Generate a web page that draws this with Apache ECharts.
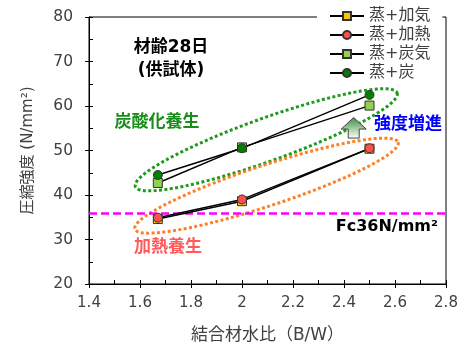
<!DOCTYPE html>
<html>
<head>
<meta charset="utf-8">
<script src="https://cdn.jsdelivr.net/npm/echarts@6/dist/echarts.min.js"></script>
<style>
  html, body { margin: 0; padding: 0; background: #fff; }
  #chart { width: 464px; height: 347px; }
</style>
</head>
<body>
<div id="chart"></div>
<script>
// Binder-water ratio (B/W) of the specimens
const bwRatio = [1.67, 2.0, 2.5];
// 28-day compressive strength (N/mm2) per curing method
const steamHeatAir = [34.6, 38.6, 50.4];   // 蒸+加気
const steamHeat = [34.9, 39.0, 50.5];      // 蒸+加熱
const steamCarbAir = [42.7, 50.7, 60.1];   // 蒸+炭気
const steamCarb = [44.5, 50.5, 62.5];      // 蒸+炭
// Design strength line
const fcValue = 36;
// Axis tick settings
const xTicks = { min: 1.4, max: 2.8, interval: 0.2 };
const yTicks = { min: 20, max: 80, interval: 10 };

const FONT = "'DejaVu Sans', 'Noto Sans CJK JP', sans-serif";
const TEXT_GRAY = '#404040';

const chart = echarts.init(document.getElementById('chart'), null, { renderer: 'canvas' });

function pairs(ys) { return bwRatio.map((x, i) => [x, ys[i]]); }

function makeSeries(name, ys, symbol, color) {
  return {
    name: name,
    type: 'line',
    data: pairs(ys),
    symbol: symbol,
    symbolSize: 9,
    showSymbol: true,
    lineStyle: { color: '#000', width: 1.4 },
    itemStyle: { color: color, borderColor: '#333', borderWidth: 1 },
    emphasis: { disabled: true },
    z: 3
  };
}

const series = [
  makeSeries('蒸+加気', steamHeatAir, 'rect', '#FFC000'),
  makeSeries('蒸+加熱', steamHeat, 'circle', '#FF5050'),
  makeSeries('蒸+炭気', steamCarbAir, 'rect', '#92D050'),
  makeSeries('蒸+炭', steamCarb, 'circle', '#008000')
];
series[0].markLine = {
  silent: true,
  symbol: 'none',
  label: { show: false },
  lineStyle: { color: '#FF00FF', type: [8, 4], width: 2.5 },
  data: [{ yAxis: fcValue }],
  z: 2
};

const axisCommon = {
  axisLine: { show: true, onZero: false, lineStyle: { color: '#000', width: 1 } },
  splitLine: { show: false }
};

chart.setOption({
  animation: false,
  backgroundColor: '#fff',
  grid: {
    left: 89, right: 18, top: 17, bottom: 63,
    outerBoundsMode: 'none',
    containLabel: false,
    show: true, borderColor: '#000', borderWidth: 1, backgroundColor: 'transparent'
  },
  legend: {
    orient: 'vertical',
    left: 317, top: 4,
    padding: [4, 12, 4, 12],
    backgroundColor: '#fff',
    itemWidth: 34, itemHeight: 10, itemGap: 3,
    textStyle: { fontFamily: FONT, fontSize: 16, color: TEXT_GRAY, lineHeight: 16 },
    data: series.map(s => s.name)
  },
  xAxis: [
    Object.assign({}, axisCommon, {
      type: 'value', min: xTicks.min, max: xTicks.max, interval: xTicks.interval,
      position: 'bottom',
      axisTick: { show: true, inside: false, length: 4, lineStyle: { color: '#000' } },
      axisLabel: {
        margin: 12, fontFamily: FONT, fontSize: 15, color: TEXT_GRAY,
        formatter: v => (Math.round(v * 10) / 10).toString()
      },
      name: '結合材水比（B/W）', nameLocation: 'middle', nameGap: 43,
      nameTextStyle: { fontFamily: FONT, fontSize: 17, color: TEXT_GRAY }
    }),
    Object.assign({}, axisCommon, {
      type: 'value', min: xTicks.min, max: xTicks.max, interval: xTicks.interval,
      position: 'bottom',
      axisTick: { show: true, inside: true, length: 4, lineStyle: { color: '#000' } },
      minorTick: { show: true, splitNumber: 2, length: 4, lineStyle: { color: '#000' } },
      axisLabel: { show: false }
    })
  ],
  yAxis: [
    Object.assign({}, axisCommon, {
      type: 'value', min: yTicks.min, max: yTicks.max, interval: yTicks.interval,
      position: 'left',
      axisTick: { show: true, inside: false, length: 4, lineStyle: { color: '#000' } },
      axisLabel: { margin: 16, fontFamily: FONT, fontSize: 15.5, color: TEXT_GRAY },
      name: '圧縮強度 (N/mm²)', nameLocation: 'middle', nameGap: 53,
      nameTextStyle: { fontFamily: FONT, fontSize: 15, color: TEXT_GRAY }
    }),
    Object.assign({}, axisCommon, {
      type: 'value', min: yTicks.min, max: yTicks.max, interval: yTicks.interval,
      position: 'left',
      axisTick: { show: true, inside: true, length: 4, lineStyle: { color: '#000' } },
      minorTick: { show: true, splitNumber: 2, length: 4, lineStyle: { color: '#000' } },
      axisLabel: { show: false }
    })
  ],
  series: series
});

// Rotated dotted ellipse around a group of points, centred on a data position
function ellipsePoints(centerData, a, b, deg) {
  const c = chart.convertToPixel({ gridIndex: 0 }, centerData);
  const t = deg * Math.PI / 180;
  const pts = [];
  const n = 160;
  for (let i = 0; i < n; i++) {
    const ang = 2 * Math.PI * i / n;
    const ex = a * Math.cos(ang), ey = b * Math.sin(ang);
    pts.push([c[0] + ex * Math.cos(t) + ey * Math.sin(t),
              c[1] - ex * Math.sin(t) + ey * Math.cos(t)]);
  }
  return pts;
}

// Upward block arrow, tip placed at a data position
function arrowPoints(tipData) {
  const p = chart.convertToPixel({ gridIndex: 0 }, tipData);
  const x = p[0], y = p[1];
  return [
    [x, y], [x + 12.5, y + 11.5], [x + 5.5, y + 11.5], [x + 5.5, y + 20.5],
    [x - 5.5, y + 20.5], [x - 5.5, y + 11.5], [x - 12.5, y + 11.5]
  ];
}

const carbGroup = { center: [2.095, 52.4], a: 139, b: 21.5, angle: 19.7 };
const heatGroup = { center: [2.096, 42.1], a: 138.6, b: 20.3, angle: 18.25 };
const arrowTip = [2.438, 57.4];

function label(text, x, y, color, size, align) {
  return {
    type: 'text', x: x, y: y, z: 10,
    style: {
      text: text, fill: color, font: 'bold ' + size + 'px ' + FONT,
      align: align || 'center', verticalAlign: 'middle'
    }
  };
}

chart.setOption({
  graphic: [
    {
      type: 'polygon', z: 1, silent: true,
      shape: { points: ellipsePoints(carbGroup.center, carbGroup.a, carbGroup.b, carbGroup.angle) },
      style: { fill: 'none', stroke: '#1E9A1E', lineWidth: 3, lineDash: [3, 2.4] }
    },
    {
      type: 'polygon', z: 1, silent: true,
      shape: { points: ellipsePoints(heatGroup.center, heatGroup.a, heatGroup.b, heatGroup.angle) },
      style: { fill: 'none', stroke: '#FF7F27', lineWidth: 3, lineDash: [3, 2.4] }
    },
    {
      type: 'polygon', z: 5, silent: true,
      shape: { points: arrowPoints(arrowTip) },
      style: {
        fill: new echarts.graphic.LinearGradient(0, 0, 0, 1, [
          { offset: 0, color: '#3C8C3C' },
          { offset: 1, color: '#FFFFFF' }
        ]),
        stroke: '#404040', lineWidth: 1
      }
    },
    label('材齢28日', 171, 48, '#000', 17),
    label('(供試体)', 171, 71, '#000', 17),
    label('炭酸化養生', 157, 123, '#1A8C1A', 17),
    label('加熱養生', 168, 248, '#FF5A5A', 17),
    label('強度増進', 408, 125, '#0000FF', 17),
    label('Fc36N/mm²', 438, 227, '#000', 16, 'right')
  ]
});
</script>
</body>
</html>
